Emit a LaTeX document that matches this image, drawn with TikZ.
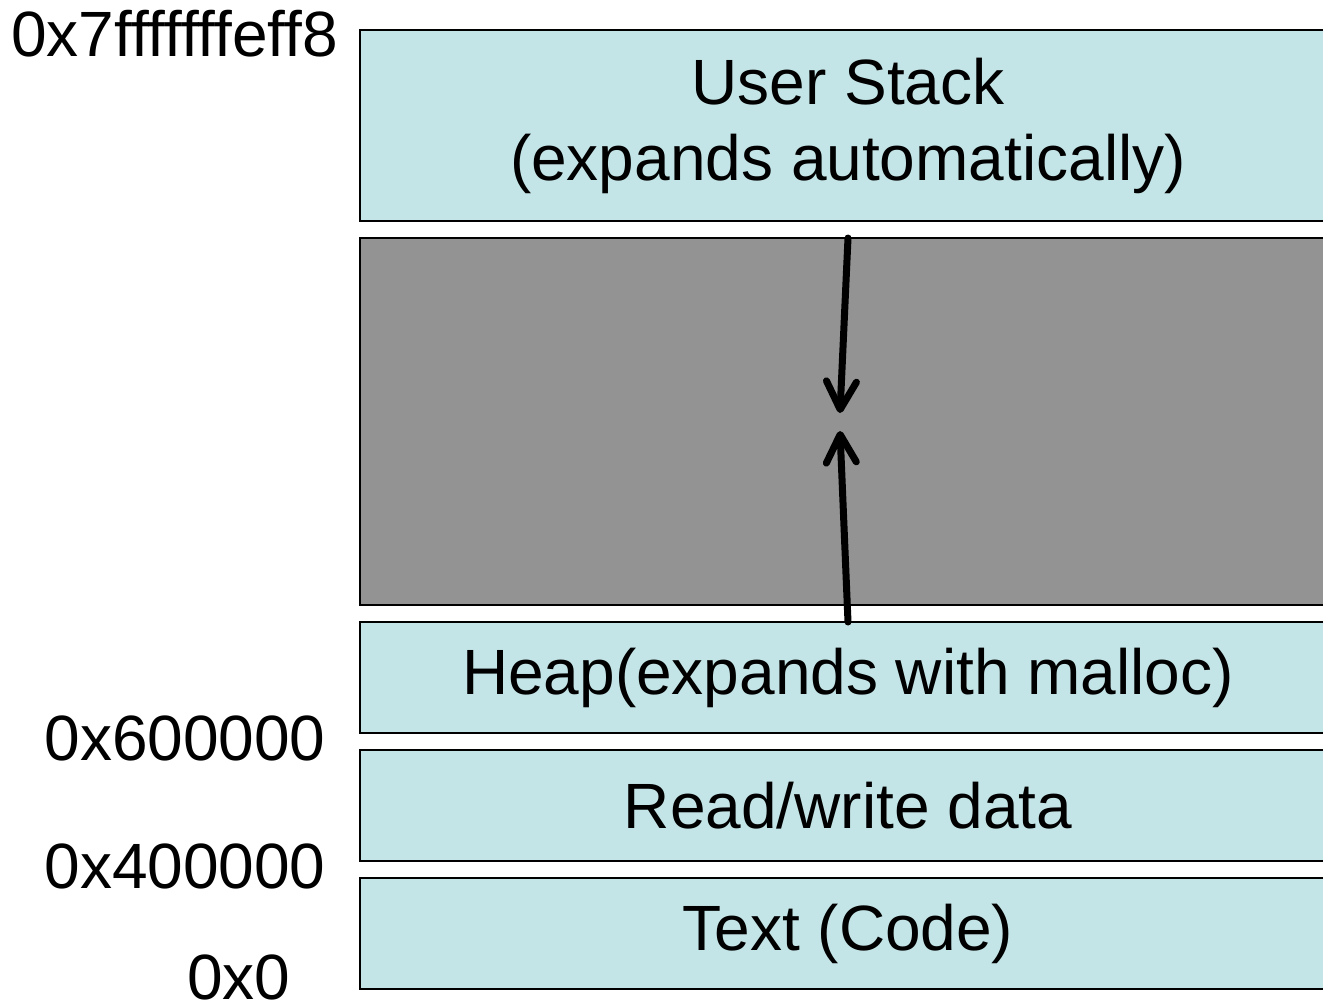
\documentclass[tikz,border=0pt]{standalone}
\usepackage{fontspec}
\setmainfont{Liberation Sans}
\usetikzlibrary{arrows.meta}
\definecolor{segblue}{RGB}{196,229,231}
\definecolor{gapgray}{RGB}{147,147,147}
\tikzset{
    seg/.style={draw=black, line width=1pt, fill=segblue, minimum width=488pt, inner sep=0pt, outer sep=0pt, align=center, font=\fontsize{32}{38}\selectfont},
    addr/.style={inner sep=0pt, font=\fontsize{32}{38}\selectfont},
    growth/.style={line width=3.5pt, line cap=round, -{Straight Barb[length=14pt, width=15pt, round]}}
}
\begin{document}
\begin{tikzpicture}[x=0.5pt, y=-0.5pt]
        \useasboundingbox (0,0) rectangle (1323,1002);
        \clip (0,0) rectangle (1323,1002);
        % segments
        \node[seg, minimum height=95.5pt] (stack) at (848,125.5) {User Stack\\[0pt](expands automatically)};
        \node[seg, minimum height=183.5pt, fill=gapgray] (gap) at (848,421.5) {};
        \node[seg, minimum height=55.5pt] (heap) at (848,677.5) {Heap(expands with malloc)};
        \node[seg, minimum height=55.5pt] (rwdata) at (848,805.5) {Read/write data};
        \node[seg, minimum height=55.5pt] (code) at (848,933.5) {Text (Code)};
        % addresses
        \node[addr, anchor=base east] (topaddr) at (338,56) {0x7fffffffeff8};
        \node[addr, anchor=base east] (dataaddr) at (326,760) {0x600000};
        \node[addr, anchor=base east] (codeaddr) at (326,888) {0x400000};
        \node[addr, anchor=base east] (zeroaddr) at (291,999) {0x0};
        % growth
        \coordinate (stackend) at (840,413);
        \coordinate (heapend) at (840,431);
        \draw[growth] (gap.north) -- (stackend);
        \draw[growth] (heap.north) -- (heapend);
    \end{tikzpicture}
\end{document}
